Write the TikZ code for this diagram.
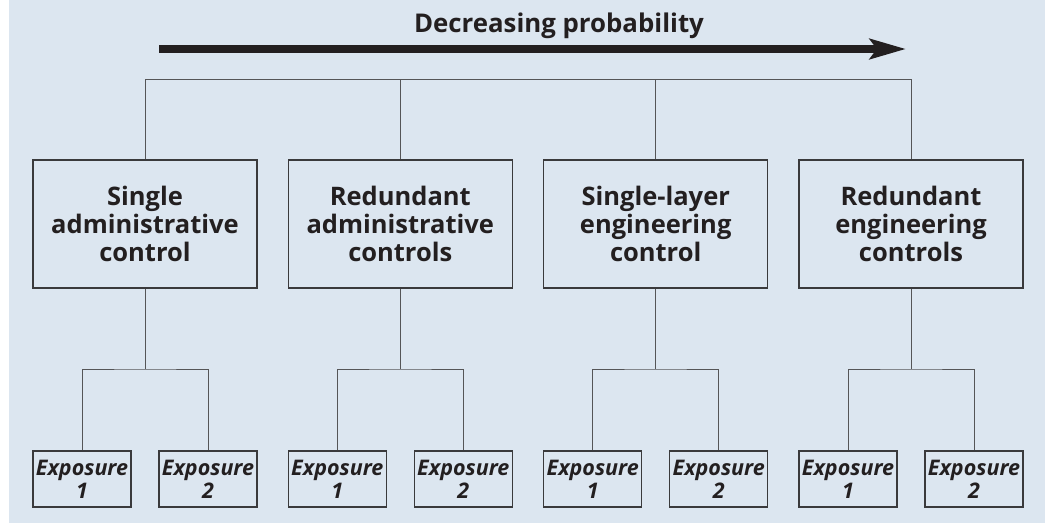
\documentclass[tikz,border=0pt]{standalone}
\usepackage{fontspec}
\setmainfont{Open Sans}
\usetikzlibrary{arrows.meta}
\definecolor{panel}{HTML}{DCE6F0}
\definecolor{ink}{HTML}{231F20}
\definecolor{frame}{HTML}{3A3A3C}
\definecolor{wire}{HTML}{555557}
\tikzset{
  x=1pt, y=-1pt,
  ctrlbox/.style={draw=frame, line width=1.1pt, minimum width=224pt, minimum height=128pt,
    inner sep=0pt, align=center, text=ink, font=\bfseries\fontsize{25.5}{28}\selectfont},
  expbox/.style={draw=frame, line width=1.1pt, minimum width=98pt, minimum height=56pt,
    inner sep=0pt, align=center, text=ink, font=\bfseries\itshape\fontsize{21.5}{23}\selectfont},
  link/.style={draw=wire, line width=1pt},
}
\begin{document}
\begin{tikzpicture}
\useasboundingbox (0,0) rectangle (1045,523);
\fill[white] (0,0) rectangle (1045,523);
\fill[panel] (9,0) rectangle (1045,523);

% direction of decreasing probability
\node[text=ink, font=\bfseries\fontsize{25.8}{30}\selectfont, anchor=base] (title) at (559,32) {Decreasing probability};
\coordinate (arrS) at (159,49);
\coordinate (arrE) at (906,49);
\draw[ink, line width=8pt, -{Stealth[length=36pt, width=20pt, inset=7pt]}] (arrS) -- (arrE);

% control levels
\node[ctrlbox] (c1) at (145,224) {Single\\administrative\\control};
\node[ctrlbox] (c2) at (400.3,224) {Redundant\\administrative\\controls};
\node[ctrlbox] (c3) at (655.7,224) {Single-layer\\engineering\\control};
\node[ctrlbox] (c4) at (911,224) {Redundant\\engineering\\controls};

% top bus joining all control levels
\coordinate (bus) at (145,79);
\draw[link] (c1.north) |- (bus) -| (c4.north);
\draw[link] (c2.north) -- (c2.north |- bus);
\draw[link] (c3.north) -- (c3.north |- bus);

% exposures under each control level
\foreach \i/\cx in {1/145, 2/400.3, 3/655.7, 4/911} {
  \node[expbox] (e\i a) at (\cx-63,479) {Exposure\\1};
  \node[expbox] (e\i b) at (\cx+63,479) {Exposure\\2};
  \coordinate (j\i) at (\cx,369);
  \draw[link] (c\i.south) -- (j\i);
  \draw[link] (e\i a.north) |- (j\i) -| (e\i b.north);
}
\end{tikzpicture}
\end{document}
